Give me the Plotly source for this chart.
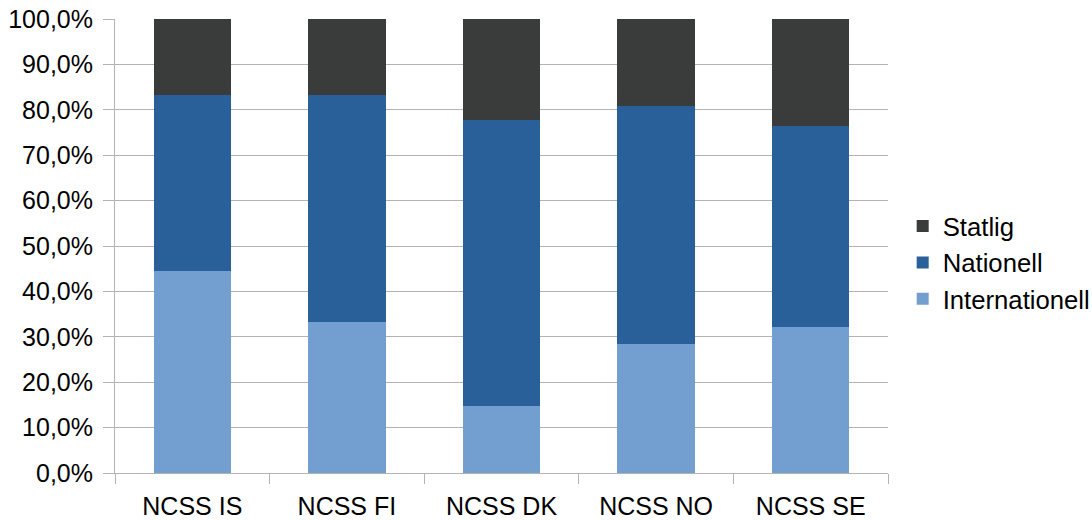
import plotly.graph_objects as go

categories = ["NCSS IS", "NCSS FI", "NCSS DK", "NCSS NO", "NCSS SE"]
internationell = [44.4, 33.3, 14.8, 28.4, 32.2]
nationell = [38.9, 50.0, 63.0, 52.4, 44.2]
statlig = [16.7, 16.7, 22.2, 19.2, 23.6]
y_ticks = list(range(0, 101, 10))
y_tick_labels = [f"{v},0%" for v in y_ticks]

series = [
    ("Internationell", internationell, "#729fcf"),
    ("Nationell", nationell, "#2a6099"),
    ("Statlig", statlig, "#393c3b"),
]

fig = go.Figure()
for name, vals, color in series:
    fig.add_trace(go.Bar(
        name=name, x=categories, y=vals,
        marker=dict(color=color, line=dict(width=0)),
        hovertemplate="%{x}: %{y:.1f}%<extra>" + name + "</extra>",
    ))

grid = "#b3b3b3"
font_family = "Liberation Sans, Arial, sans-serif"
fig.update_layout(
    barmode="stack",
    bargap=0.5,
    width=1092, height=520,
    margin=dict(l=115, r=204, t=19, b=47, autoexpand=False),
    paper_bgcolor="white", plot_bgcolor="white",
    font=dict(family=font_family, size=25, color="black"),
    showlegend=True,
    legend=dict(
        traceorder="reversed",
        x=1.019, xanchor="left", y=0.463, yanchor="middle",
        font=dict(family=font_family, size=25.7, color="black"),
        itemwidth=30, tracegroupgap=0,
    ),
    xaxis=dict(
        automargin=False,
        showline=True, linecolor=grid, linewidth=1,
        ticks="outside", tickson="boundaries", ticklen=10, tickcolor=grid,
        tickfont=dict(family=font_family, size=25, color="black"),
        ticklabelstandoff=11,
        showgrid=False,
    ),
    yaxis=dict(
        automargin=False,
        range=[0, 100],
        tickmode="array", tickvals=y_ticks, ticktext=y_tick_labels,
        tickfont=dict(family=font_family, size=25, color="black"),
        showgrid=True, gridcolor=grid, gridwidth=1,
        showline=True, linecolor=grid, linewidth=1,
        ticks="outside", ticklen=11, tickcolor=grid,
        ticklabelstandoff=5,
        zeroline=False,
    ),
)

fig.write_html("out.html")
